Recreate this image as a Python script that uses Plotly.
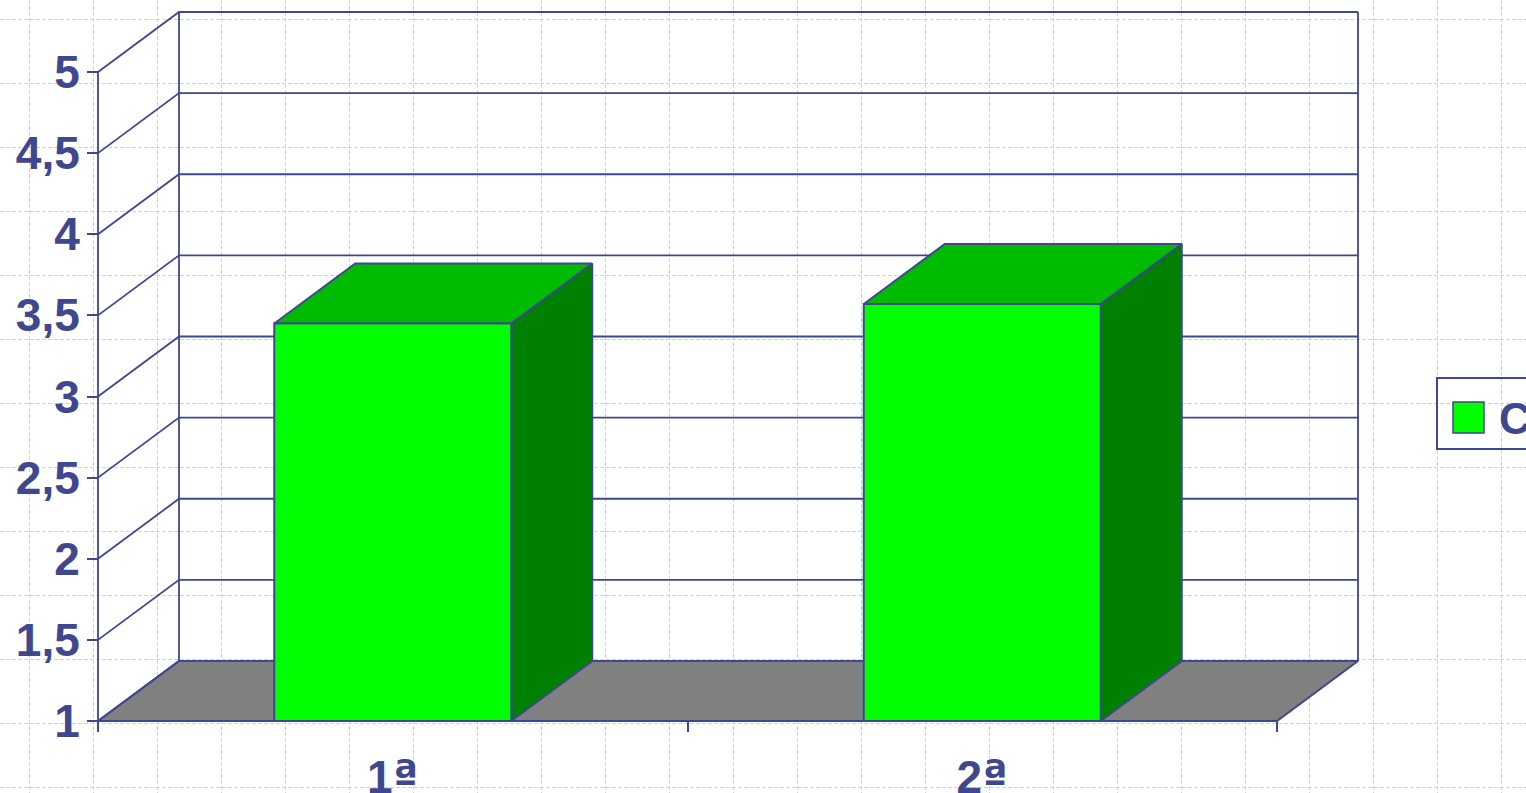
import plotly.graph_objects as go

# ---------------- data ----------------
categories = ["1ª", "2ª"]
values = [3.45, 3.57]
series_name = "Conceito"
y_ticks = [1, 1.5, 2, 2.5, 3, 3.5, 4, 4.5, 5]
y_tick_labels = ["1", "1,5", "2", "2,5", "3", "3,5", "4", "4,5", "5"]

# ---------------- style / geometry ----------------
W, H = 1526, 793
X0_PX, CAT_PX = 98, 589.5      # left end of category axis, pixels per category
Y1_PX, UNIT_PX = 721, 162.25   # pixel of the lowest value, pixels per value unit
DX_PX, DY_PX = 81, 60          # 3-D depth offset
BAR_PX = 237

INK = "#3F478F"
FONT = dict(family="Liberation Sans, Arial, sans-serif", color=INK, size=46, weight="bold")
GRID = "#C4D2F6"

dx = DX_PX / CAT_PX
dy = DY_PX / UNIT_PX
bw = BAR_PX / CAT_PX
ymin, ymax = y_ticks[0], y_ticks[-1]
n = len(categories)

xr = [-X0_PX / CAT_PX, (W - X0_PX) / CAT_PX]
yr = [ymin - (H - Y1_PX) / UNIT_PX, ymin + Y1_PX / UNIT_PX]


def fmt_label(s):
    # DejaVu's ordinal indicator carries the underline of the original typeface
    return s.replace("ª", '<span style="font-family:DejaVu Sans">ª</span>')


fig = go.Figure()


def poly(xs, ys, fill, lw=2):
    fig.add_trace(go.Scatter(
        x=list(xs) + [xs[0]], y=list(ys) + [ys[0]], mode="lines", fill="toself",
        fillcolor=fill, line=dict(color=INK, width=lw), hoverinfo="skip",
        showlegend=False, xaxis="x", yaxis="y"))


# floor
poly([0, n, n + dx, dx], [ymin, ymin, ymin + dy, ymin + dy], "#808080")

# walls
lx, ly = [], []
for v in y_ticks:
    lx += [0, dx, n + dx, None]
    ly += [v, v + dy, v + dy, None]
for xv, off in [(0, 0), (dx, dy), (n + dx, dy)]:
    lx += [xv, xv, None]
    ly += [ymin + off, ymax + off, None]
fig.add_trace(go.Scatter(x=lx, y=ly, mode="lines", line=dict(color=INK, width=1.8),
                         hoverinfo="skip", showlegend=False, xaxis="x", yaxis="y"))

# bars
for i, v in enumerate(values):
    c = i + 0.5
    l, r = c - bw / 2, c + bw / 2
    poly([r, r + dx, r + dx, r], [ymin, ymin + dy, v + dy, v], "#008000")
    poly([l, r, r + dx, l + dx], [v, v, v + dy, v + dy], "#00BB00")
    poly([l, r, r, l], [ymin, ymin, v, v], "#00FF00")

# background grid (pixel axes)
fig.add_trace(go.Scatter(x=[0], y=[0], mode="markers", marker=dict(opacity=0),
                         hoverinfo="skip", showlegend=False, xaxis="x2", yaxis="y2"))

fig.update_layout(
    width=W, height=H,
    margin=dict(l=0, r=0, t=0, b=0, autoexpand=False),
    paper_bgcolor="white", plot_bgcolor="rgba(0,0,0,0)",
    showlegend=False, hovermode=False,
    font=FONT,
    xaxis=dict(range=xr, anchor="free", position=(H - Y1_PX) / H, showgrid=False,
               zeroline=False, showline=False,
               tickmode="array", tickvals=[i + 0.5 for i in range(n)],
               ticktext=[fmt_label(c) for c in categories],
               ticks="outside", ticklen=16, tickcolor="rgba(0,0,0,0)",
               minor=dict(tickmode="array", tickvals=list(range(n + 1)), ticks="outside",
                          ticklen=10, tickwidth=2, tickcolor=INK),
               tickfont=FONT, fixedrange=True),
    yaxis=dict(range=yr, anchor="free", position=X0_PX / W, showgrid=False,
               zeroline=False, showline=False,
               tickmode="array", tickvals=y_ticks, ticktext=y_tick_labels,
               ticks="outside", ticklen=11, tickwidth=2, tickcolor=INK,
               ticklabelstandoff=-2, tickfont=FONT, fixedrange=True),
    xaxis2=dict(range=[0, W], overlaying="x", anchor="y2", showgrid=True, gridcolor=GRID,
                griddash="4px,2px", gridwidth=1, tick0=29, dtick=64, zeroline=False,
                showticklabels=False, ticks="", showline=False, fixedrange=True),
    yaxis2=dict(range=[H, 0], overlaying="y", anchor="x2", showgrid=True, gridcolor=GRID,
                griddash="4px,2px", gridwidth=1, tick0=19, dtick=64, zeroline=False,
                showticklabels=False, ticks="", showline=False, fixedrange=True),
)

# legend (drawn manually, partly outside the page like the reference)
fig.add_shape(type="rect", xref="x2", yref="y2", x0=1437, x1=1700, y0=378, y1=449,
              line=dict(color=INK, width=2), fillcolor="rgba(0,0,0,0)")
fig.add_shape(type="rect", xref="x2", yref="y2", x0=1453, x1=1484, y0=402, y1=433,
              line=dict(color=INK, width=1.5), fillcolor="#00FF00")
fig.add_annotation(xref="x2", yref="y2", x=1497, y=418, xanchor="left", yanchor="middle",
                   text=series_name, showarrow=False, font=dict(FONT, size=44))

fig.write_html("out.html", config=dict(displayModeBar=False),
               post_script="document.body.style.margin='0';document.body.style.overflow='hidden';")
